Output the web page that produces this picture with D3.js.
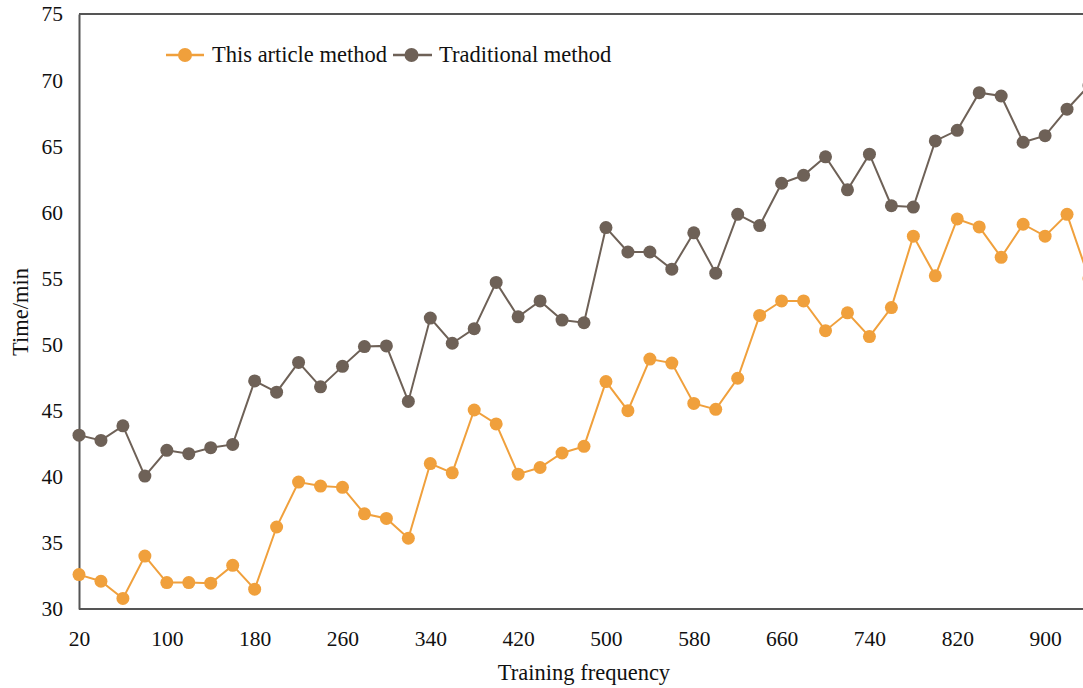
<!DOCTYPE html>
<html>
<head>
<meta charset="utf-8">
<script src="https://cdn.jsdelivr.net/npm/d3@7"></script>
<style>
  html, body { margin: 0; padding: 0; background: #fff; }
  svg { display: block; }
  text { font-family: "Liberation Serif", "Times New Roman", serif; fill: #111; }
</style>
</head>
<body>
<svg id="chart" width="1083" height="688"></svg>
<script>
const frequency = [20, 40, 60, 80, 100, 120, 140, 160, 180, 200, 220, 240, 260, 280, 300, 320,
  340, 360, 380, 400, 420, 440, 460, 480, 500, 520, 540, 560, 580, 600, 620, 640,
  660, 680, 700, 720, 740, 760, 780, 800, 820, 840, 860, 880, 900, 920, 940];

const thisArticle = [32.6, 32.1, 30.8, 34.0, 32.0, 32.0, 31.95, 33.3, 31.5, 36.2, 39.6, 39.3, 39.2, 37.2, 36.85, 35.35,
  41.0, 40.3, 45.05, 44.0, 40.2, 40.7, 41.8, 42.3, 47.2, 45.0, 48.9, 48.6, 45.55, 45.1, 47.45, 52.2,
  53.3, 53.3, 51.05, 52.4, 50.6, 52.8, 58.2, 55.2, 59.5, 58.9, 56.6, 59.1, 58.2, 59.85, 55.0];

const traditional = [43.15, 42.75, 43.85, 40.05, 42.0, 41.75, 42.2, 42.45, 47.25, 46.4, 48.65, 46.8, 48.35, 49.85, 49.9, 45.7,
  52.0, 50.1, 51.2, 54.7, 52.1, 53.3, 51.85, 51.65, 58.85, 57.0, 57.0, 55.7, 58.45, 55.4, 59.85, 59.0,
  62.2, 62.8, 64.2, 61.7, 64.4, 60.5, 60.4, 65.4, 66.2, 69.05, 68.8, 65.3, 65.8, 67.8, 69.6];

const xTicks = [20, 100, 180, 260, 340, 420, 500, 580, 660, 740, 820, 900];
const yTicks = [30, 35, 40, 45, 50, 55, 60, 65, 70, 75];

const seriesNames = ["This article method", "Traditional method"];
const seriesColors = ["#F0A03C", "#6E6157"];

const svg = d3.select("#chart");
const padLeft = 79, padTop = 14, padBottom = 609;

const x = d3.scaleLinear().domain([20, 940]).range([padLeft, 1089]);
const y = d3.scaleLinear().domain([30, 75]).range([padBottom, padTop]);

// x axis
const gx = svg.append("g").attr("transform", `translate(0,${padBottom})`)
  .call(d3.axisBottom(x).tickValues(xTicks).tickSize(0).tickPadding(22).tickFormat(d3.format("d")));
gx.select(".domain").attr("stroke", "#555").attr("stroke-width", 2).attr("d", `M${padLeft},0H1083`);
gx.selectAll("text").style("font-size", "21.5px").style("font-family", "Liberation Serif, serif").attr("fill", "#111");

// y axis
const gy = svg.append("g").attr("transform", `translate(${padLeft},0)`)
  .call(d3.axisLeft(y).tickValues(yTicks).tickSize(0).tickPadding(16));
gy.select(".domain").attr("stroke", "#555").attr("stroke-width", 2);
gy.selectAll("text").style("font-size", "21.5px").style("font-family", "Liberation Serif, serif").attr("fill", "#111");

// top border
svg.append("line").attr("x1", padLeft).attr("x2", 1083).attr("y1", padTop).attr("y2", padTop)
  .attr("stroke", "#555").attr("stroke-width", 2);

// axis titles
svg.append("text").attr("x", 584).attr("y", 680).attr("text-anchor", "middle")
  .style("font-size", "22.5px").text("Training frequency");
svg.append("text").attr("transform", "translate(28,312) rotate(-90)").attr("text-anchor", "middle")
  .style("font-size", "22.5px").text("Time/min");

// series
const seriesData = [thisArticle, traditional];
const line = d3.line().x((d, i) => x(frequency[i])).y(d => y(d));

seriesData.forEach((vals, si) => {
  const g = svg.append("g");
  g.append("path").datum(vals).attr("d", line).attr("fill", "none")
    .attr("stroke", seriesColors[si]).attr("stroke-width", 2);
  g.selectAll("circle").data(vals).enter().append("circle")
    .attr("cx", (d, i) => x(frequency[i])).attr("cy", d => y(d)).attr("r", 6.5)
    .attr("fill", seriesColors[si]);
});

// legend
const legendItems = [
  { x0: 166, x1: 204, cx: 185, tx: 212 },
  { x0: 393, x1: 432, cx: 411.5, tx: 439 }
];
legendItems.forEach((it, i) => {
  svg.append("line").attr("x1", it.x0).attr("x2", it.x1).attr("y1", 55).attr("y2", 55)
    .attr("stroke", seriesColors[i]).attr("stroke-width", 2.5);
  svg.append("circle").attr("cx", it.cx).attr("cy", 55).attr("r", 7).attr("fill", seriesColors[i]);
  svg.append("text").attr("x", it.tx).attr("y", 62).style("font-size", "22.5px").text(seriesNames[i]);
});
</script>
</body>
</html>
